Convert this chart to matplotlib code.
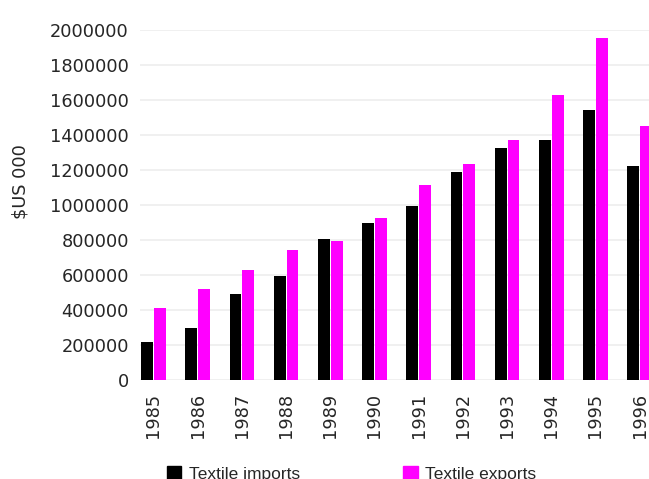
import matplotlib
matplotlib.use("Agg")
import matplotlib.pyplot as plt
import matplotlib.patches as mpatches
import numpy as np

years = ["1985", "1986", "1987", "1988", "1989", "1990",
         "1991", "1992", "1993", "1994", "1995", "1996"]
imports = [217000, 297000, 491000, 594000, 805000, 897000,
           994000, 1189000, 1326000, 1371000, 1543000, 1223000]
exports = [411000, 520000, 629000, 743000, 795000, 926000,
           1114000, 1234000, 1371000, 1629000, 1954000, 1451000]
y_ticks = [0, 200000, 400000, 600000, 800000, 1000000,
           1200000, 1400000, 1600000, 1800000, 2000000]

W, H = 649, 479
fig = plt.figure(figsize=(W / 100, H / 100), dpi=100)

# axes placed in pixel terms; the right side runs slightly past the canvas
left_px, bottom_px, top_px = 140, 380, 30
unit_px = 44.2
xmin, xmax = -0.305, 11.305
width_px = (xmax - xmin) * unit_px
ax = fig.add_axes([left_px / W, (H - bottom_px) / H,
                   width_px / W, (bottom_px - top_px) / H])

x = np.arange(len(years))
bw = 0.27
off = 0.145
ax.bar(x - off, imports, width=bw, color="#000000", zorder=3, linewidth=0)
ax.bar(x + off, exports, width=bw, color="#ff00ff", zorder=3, linewidth=0)

ax.set_xlim(xmin, xmax)
ax.set_ylim(0, 2000000)
ax.set_yticks(y_ticks)
ax.set_yticklabels([str(v) for v in y_ticks])
ax.set_xticks(x)
ax.set_xticklabels(years, rotation=90)

for s in ax.spines.values():
    s.set_visible(False)
ax.grid(axis="y", color="#eeeeee", linewidth=1.2, zorder=0)
ax.set_axisbelow(True)
ax.tick_params(axis="both", length=0, labelsize=12.8, colors="#262626")
ax.tick_params(axis="y", pad=8)
ax.tick_params(axis="x", pad=9)

fig.text(20 / W, 1 - 182 / H, "$US 000", rotation=90, ha="center",
         va="center", fontsize=12.8, color="#262626")

handles = [mpatches.Patch(color="#000000", label="Textile imports"),
           mpatches.Patch(color="#ff00ff", label="Textile exports")]
fig.legend(handles=handles, loc="center left",
           bbox_to_anchor=(151 / W, 1 - 474 / H), ncol=2, frameon=False,
           prop={"family": "Liberation Sans", "size": 12.5},
           handlelength=0.85, handleheight=0.85, handletextpad=0.45,
           columnspacing=5.9, labelcolor="#262626")

fig.savefig("out.png", dpi=100)
